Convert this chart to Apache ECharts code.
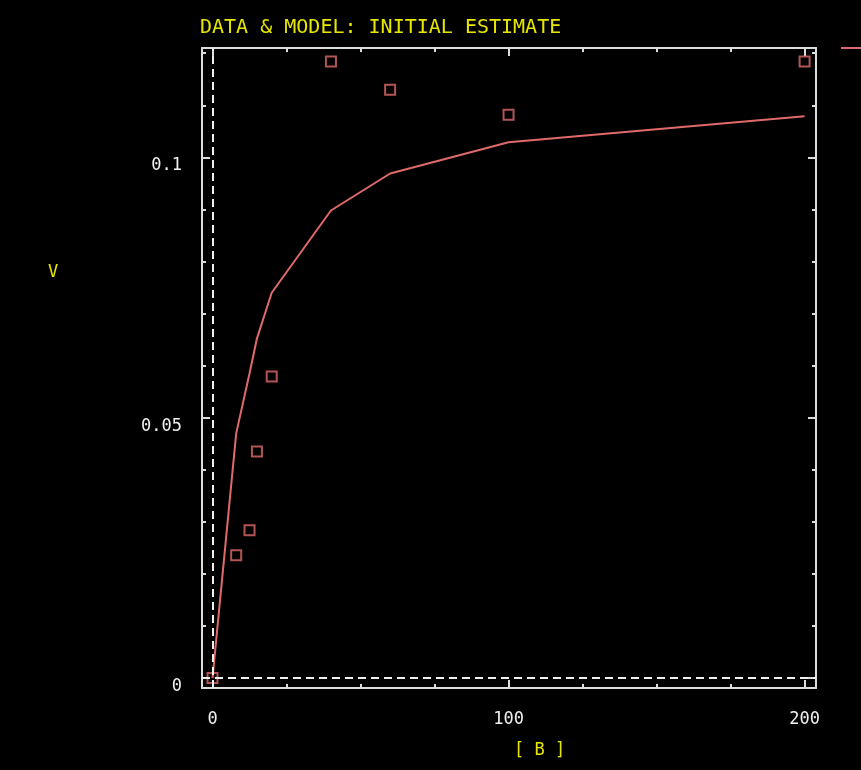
<!DOCTYPE html>
<html>
<head>
<meta charset="utf-8">
<script src="https://cdn.jsdelivr.net/npm/echarts@6/dist/echarts.min.js"></script>
<style>
html,body{margin:0;padding:0;background:#000;}
#chart{width:861px;height:770px;}
</style>
</head>
<body>
<div id="chart"></div>
<script>
// concentration [B]
const conc = [0, 8, 12.5, 15, 20, 40, 60, 100, 200];
// observed rate V (data squares)
const rateData = [0.0000, 0.0236, 0.0284, 0.0435, 0.0579, 0.1184, 0.1130, 0.1082, 0.1184];
// model rate V (initial estimate line)
const rateModel = [0.0000, 0.0470, 0.0585, 0.0652, 0.0740, 0.0898, 0.0969, 0.1029, 0.1079];
// tick values
const xMajor = [0, 100, 200];
const xMinor = [25, 50, 75, 125, 150, 175];
const yMajor = [0, 0.05, 0.1];
const yMinor = [0.01, 0.02, 0.03, 0.04, 0.06, 0.07, 0.08, 0.09, 0.11, 0.12];

const FONT = "'DejaVu Sans Mono', 'Liberation Mono', monospace";
const FRAME = '#dcdcdc';
const RED = '#e06a6a';
const YEL = '#e6e600';
const XMIN = -3.55, XMAX = 203.85, YMIN = -0.0019, YMAX = 0.121;

function xAx(pos, values, len, showLine, showLabel) {
  return {
    type: 'value', position: pos, min: XMIN, max: XMAX,
    splitLine: {show: false},
    axisLine: {show: showLine, onZero: false, lineStyle: {color: FRAME, width: 2}},
    axisTick: {show: true, inside: true, length: len, customValues: values, lineStyle: {color: FRAME, width: 2}},
    axisLabel: {show: showLabel, customValues: values, color: '#f0f0f0', fontFamily: FONT, fontSize: 17, margin: 23}
  };
}
function yAx(pos, values, len, showLine, showLabel) {
  return {
    type: 'value', position: pos, min: YMIN, max: YMAX,
    splitLine: {show: false},
    axisLine: {show: showLine, onZero: false, lineStyle: {color: FRAME, width: 2}},
    axisTick: {show: true, inside: true, length: len, customValues: values, lineStyle: {color: FRAME, width: 2}},
    axisLabel: {show: showLabel, customValues: values, color: '#f0f0f0', fontFamily: FONT, fontSize: 17, margin: 20, verticalAlign: 'top'}
  };
}

const chart = echarts.init(document.getElementById('chart'), null, {renderer: 'canvas'});
chart.setOption({
  backgroundColor: '#000',
  animation: false,
  grid: {left: 202, right: 45, top: 48, bottom: 82, containLabel: false},
  xAxis: [
    xAx('bottom', xMajor, 8, true, true),
    xAx('bottom', xMinor, 4, false, false),
    xAx('top', xMajor, 8, true, false),
    xAx('top', xMinor, 4, false, false)
  ],
  yAxis: [
    yAx('left', yMajor, 8, true, true),
    yAx('left', yMinor, 4, false, false),
    yAx('right', yMajor, 8, true, false),
    yAx('right', yMinor, 4, false, false)
  ],
  legend: {
    left: 836, top: 37, itemWidth: 30, itemHeight: 2, icon: 'rect',
    data: ['Model'], textStyle: {color: '#000', fontSize: 12}, selectedMode: false
  },
  graphic: [
    {type: 'text', left: 200, top: 18, style: {text: 'DATA & MODEL: INITIAL ESTIMATE', fill: YEL, font: '20px ' + FONT}},
    {type: 'text', left: 48, top: 264, style: {text: 'V', fill: YEL, font: '17px ' + FONT}},
    {type: 'text', left: 514, top: 742, style: {text: '[ B ]', fill: YEL, font: '17px ' + FONT}}
  ],
  series: [
    {
      name: 'Model', type: 'line', xAxisIndex: 0, yAxisIndex: 0,
      data: conc.map((c, i) => [c, rateModel[i]]),
      showSymbol: false, symbol: 'none',
      lineStyle: {color: RED, width: 2}, itemStyle: {color: RED},
      z: 3
    },
    {
      name: 'Data', type: 'scatter', xAxisIndex: 0, yAxisIndex: 0,
      data: conc.map((c, i) => [c, rateData[i]]),
      symbol: 'rect', symbolSize: 10,
      itemStyle: {color: 'rgba(0,0,0,0)', borderColor: RED, borderWidth: 2},
      z: 4,
      markLine: {
        silent: true, symbol: 'none', label: {show: false},
        lineStyle: {color: '#f0f0f0', type: [8, 5], width: 2},
        data: [{xAxis: 0}, {yAxis: 0}]
      }
    }
  ]
});
</script>
</body>
</html>
